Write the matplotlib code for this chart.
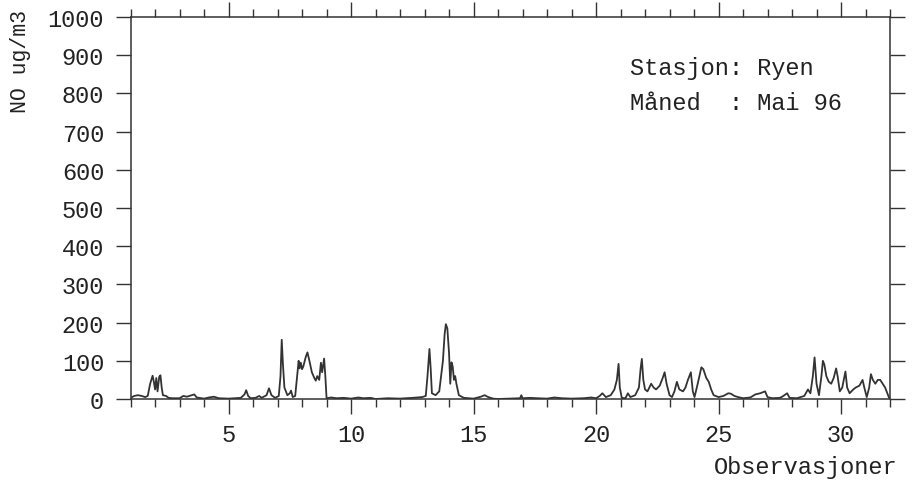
import numpy as np
import matplotlib.pyplot as plt
from matplotlib.ticker import MultipleLocator

plt.rcParams['font.family'] = ['Liberation Mono', 'DejaVu Sans Mono']

# NO concentration, Ryen, May 1996 (vertices only)
obs_day = [1.0, 1.15, 1.3, 1.45, 1.6, 1.7, 1.8, 1.9, 1.95, 2.0, 2.05, 2.1, 2.17, 2.22, 2.27,
           2.32, 2.45, 2.55, 2.7, 3.0, 3.15, 3.3, 3.5, 3.6, 3.7, 4.0, 4.2, 4.4, 4.6, 5.0,
           5.5, 5.65, 5.72, 5.8, 5.9, 6.1, 6.25, 6.35, 6.55, 6.65, 6.75, 6.9, 7.05, 7.12,
           7.17, 7.22, 7.28, 7.4, 7.5, 7.55, 7.62, 7.72, 7.8, 7.86, 7.9, 7.95, 8.0, 8.05,
           8.15, 8.22, 8.3, 8.4, 8.5, 8.56, 8.62, 8.7, 8.77, 8.82, 8.9, 8.95, 9.0, 9.2,
           9.4, 9.7, 10.0, 10.3, 10.5, 10.8, 11.0, 11.5, 12.0, 12.5, 12.9, 13.05, 13.12,
           13.2, 13.25, 13.3, 13.45, 13.6, 13.75, 13.82, 13.87, 13.93, 14.0, 14.05, 14.1,
           14.15, 14.2, 14.25, 14.3, 14.4, 14.6, 15.0, 15.3, 15.45, 15.6, 15.8, 16.0,
           16.5, 16.9, 16.95, 17.0, 17.3, 17.6, 18.0, 18.3, 18.6, 19.0, 19.5, 19.8, 20.0,
           20.15, 20.26, 20.4, 20.6, 20.75, 20.85, 20.92, 20.97, 21.05, 21.2, 21.3, 21.4,
           21.6, 21.75, 21.82, 21.87, 21.93, 22.0, 22.1, 22.25, 22.35, 22.45, 22.6, 22.72,
           22.8, 22.88, 23.0, 23.1, 23.2, 23.3, 23.4, 23.55, 23.65, 23.75, 23.87, 23.95,
           24.02, 24.15, 24.3, 24.38, 24.5, 24.6, 24.7, 24.8, 25.0, 25.2, 25.4, 25.5,
           25.65, 25.8, 26.0, 26.3, 26.5, 26.7, 26.9, 27.0, 27.2, 27.5, 27.6, 27.8, 27.9,
           28.2, 28.5, 28.65, 28.75, 28.85, 28.92, 29.0, 29.1, 29.2, 29.26, 29.32, 29.4,
           29.5, 29.6, 29.7, 29.8, 29.86, 29.95, 30.05, 30.18, 30.25, 30.35, 30.5, 30.6,
           30.75, 30.88, 30.95, 31.05, 31.15, 31.22, 31.3, 31.4, 31.5, 31.6, 31.7, 31.8,
           31.95, 32.0]
no_conc = [3, 8, 10, 8, 5, 8, 40, 61, 45, 25, 55, 20, 58, 62, 30,
           10, 8, 3, 2, 2, 8, 6, 10, 12, 4, 1, 4, 6, 2, 1,
           3, 12, 23, 8, 2, 3, 8, 3, 10, 28, 10, 3, 8, 60,
           155, 90, 30, 10, 15, 22, 5, 8, 60, 100, 80, 95, 78, 85,
           110, 122, 100, 70, 55, 48, 60, 50, 95, 70, 106, 60, 2, 4,
           2, 3, 1, 4, 2, 3, 0, 2, 1, 3, 5, 8, 60,
           131, 80, 15, 10, 20, 100, 170, 196, 185, 120, 40, 96,
           85, 50, 60, 40, 10, 3, 1, 6, 10, 5, 1, 0,
           1, 2, 10, 2, 3, 2, 1, 4, 2, 1, 2, 4, 2,
           8, 15, 5, 10, 25, 50, 92, 30, 3, 2, 15, 5,
           10, 30, 80, 105, 50, 25, 20, 40, 30, 25, 35, 55,
           70, 40, 10, 5, 20, 45, 25, 20, 30, 50, 70, 20,
           5, 40, 83, 78, 55, 45, 25, 10, 5, 8, 15, 14,
           8, 5, 2, 4, 12, 15, 20, 5, 2, 3, 6, 15, 3,
           2, 8, 25, 15, 60, 109, 40, 10, 60, 100, 90, 60,
           45, 40, 55, 80, 60, 20, 30, 72, 30, 15, 25, 30,
           35, 50, 30, 5, 30, 65, 50, 40, 50, 50, 40, 30,
           5, 0]

ink = '#333333'
txt = '#222222'
fig = plt.figure(figsize=(9.15, 4.89), dpi=100)
ax = fig.add_axes([0.1427, 0.182, 0.8300, 0.781])
ax.plot(obs_day, no_conc, color=ink, linewidth=1.3)

ax.set_xlim(1, 32)
ax.set_ylim(0, 1000)
ax.xaxis.set_major_locator(MultipleLocator(5))
ax.xaxis.set_minor_locator(MultipleLocator(1))
ax.yaxis.set_major_locator(MultipleLocator(100))

for s in ax.spines.values():
    s.set_color(ink)
    s.set_linewidth(1.1)

ax.tick_params(axis='x', which='major', direction='out', length=11, width=1,
               top=True, bottom=True, colors=ink, labelsize=17, pad=6)
ax.tick_params(axis='x', which='minor', direction='out', length=5.5, width=1,
               top=True, bottom=True, colors=ink)
ax.tick_params(axis='y', which='major', direction='out', length=11, width=1,
               left=True, right=True, colors=ink, labelsize=17, pad=8)
ax.tick_params(labelcolor=txt)

ax.text(0.658, 0.851, 'Stasjon: Ryen', transform=ax.transAxes, fontsize=17,
        color=txt, va='baseline', ha='left')
ax.text(0.658, 0.759, 'Måned  : Mai 96', transform=ax.transAxes, fontsize=17,
        color=txt, va='baseline', ha='left')

fig.text(0.022, 0.875, 'NO ug/m3', rotation=90, fontsize=15.5, color=txt,
         ha='center', va='center')
fig.text(0.981, 0.043, 'Observasjoner', fontsize=17, color=txt,
         ha='right', va='center')

fig.savefig('out.png', dpi=100)
